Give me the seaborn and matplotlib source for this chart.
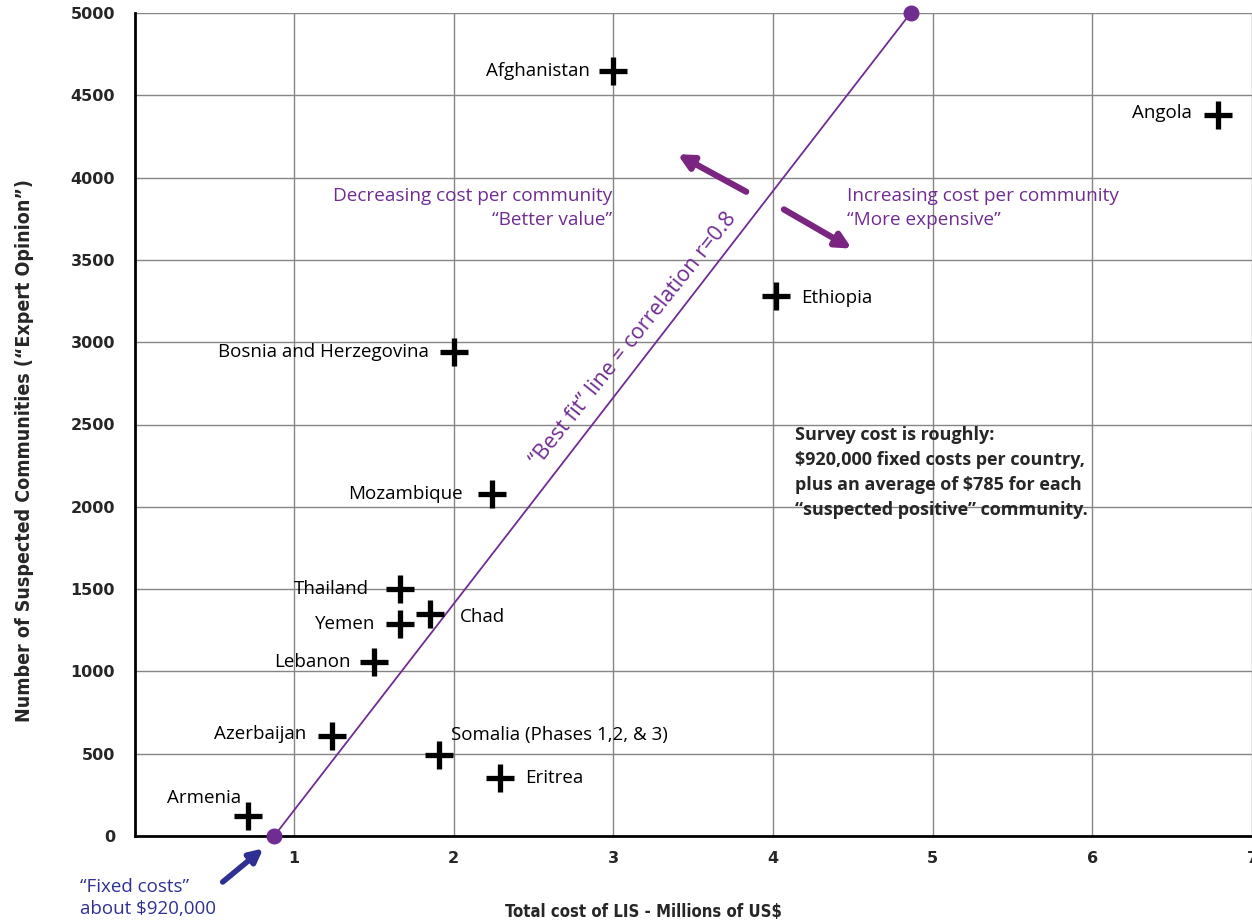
import matplotlib
matplotlib.use("Agg")
import matplotlib.pyplot as plt
import seaborn as sns
import pandas as pd

# data
countries = ["Afghanistan", "Angola", "Ethiopia", "Bosnia and Herzegovina", "Mozambique",
             "Thailand", "Yemen", "Chad", "Lebanon", "Azerbaijan",
             "Somalia (Phases 1,2, & 3)", "Eritrea", "Armenia"]
cost_musd = [3.0, 6.79, 4.02, 2.0, 2.24, 1.66, 1.66, 1.85, 1.50, 1.24, 1.91, 2.29, 0.71]
communities = [4650, 4380, 3280, 2940, 2080, 1500, 1290, 1350, 1060, 610, 490, 350, 120]

fit_x = [0.875, 4.862]
fit_y = [0, 5000]

x_ticks = [1, 2, 3, 4, 5, 6, 7]
y_ticks = [0, 500, 1000, 1500, 2000, 2500, 3000, 3500, 4000, 4500, 5000]

df = pd.DataFrame({"country": countries, "cost": cost_musd, "communities": communities})

sns.set_theme(style="white")
plt.rcParams["font.family"] = ["Open Sans", "DejaVu Sans"]

PURPLE = "#6f2c91"
ARROW = "#7a2680"
BLUE = "#2e3192"

fig = plt.figure(figsize=(12.52, 9.24), dpi=100)
ax = fig.add_axes([134.5 / 1252, 88 / 924, 1117.5 / 1252, 823 / 924])

# best fit line + endpoints
sns.lineplot(x=fit_x, y=fit_y, ax=ax, color=PURPLE, lw=1.3, zorder=3)
ax.scatter(fit_x, fit_y, s=110, color=PURPLE, zorder=5, clip_on=False)

sns.scatterplot(data=df, x="cost", y="communities", marker="+", s=420,
                color="black", linewidth=3.8, ax=ax, zorder=4)

# label placement (pixel offsets from each cross)
offsets = {
    "Afghanistan": (-24, 0, "right"),
    "Angola": (-27, 2, "right"),
    "Ethiopia": (25, -2, "left"),
    "Bosnia and Herzegovina": (-25, 0, "right"),
    "Mozambique": (-29, 0, "right"),
    "Thailand": (-31, 0, "right"),
    "Yemen": (-24, 0, "right"),
    "Chad": (30, -3, "left"),
    "Lebanon": (-23, 0, "right"),
    "Azerbaijan": (-26, 2, "right"),
    "Somalia (Phases 1,2, & 3)": (12, 20, "left"),
    "Eritrea": (25, 0, "left"),
    "Armenia": (-7, 18, "right"),
}
for name, xv, yv in zip(countries, cost_musd, communities):
    dx, dy, ha = offsets[name]
    ax.annotate(name, (xv, yv), xytext=(dx, dy), textcoords="offset pixels",
                ha=ha, va="center", fontsize=13.5, color="black", zorder=6)

ax.set_xlim(0, 6.963)
ax.set_ylim(0, 5000)
ax.set_xticks(x_ticks)
ax.set_yticks(y_ticks)
ax.grid(True, color="#858585", lw=1)
ax.set_axisbelow(True)
for s in ["top", "right"]:
    ax.spines[s].set_visible(False)
for s in ["left", "bottom"]:
    ax.spines[s].set_color("black")
    ax.spines[s].set_linewidth(2)
ax.tick_params(axis="x", direction="inout", length=9, width=1.5, color="black", pad=6)
ax.tick_params(axis="y", direction="in", length=0, pad=14)
for lab in ax.get_xticklabels() + ax.get_yticklabels():
    lab.set_fontfamily("DejaVu Sans")
    lab.set_fontweight("bold")
    lab.set_fontsize(11.5)

ax.set_xlabel("")
ax.set_ylabel("")
fig.text(643 / 1252, 1 - 912 / 924, "Total cost of LIS - Millions of US$", ha="center",
         va="center", fontsize=12, fontweight="bold", fontstretch="condensed",
         family=["DejaVu Sans"])
fig.text(25 / 1252, 1 - 451 / 924, "Number of Suspected Communities (\u201cExpert Opinion\u201d)",
         rotation=90, ha="center", va="center", fontsize=14, fontweight="bold",
         fontstretch="condensed", family=["DejaVu Sans"])

# annotations
ax.text(2.994, 3815, "Decreasing cost per community\n\u201cBetter value\u201d", ha="right",
        va="center", multialignment="right", color=PURPLE, fontsize=13.7, linespacing=1.45)
ax.text(4.464, 3815, "Increasing cost per community\n\u201cMore expensive\u201d", ha="left",
        va="center", color=PURPLE, fontsize=13.7, linespacing=1.45)
ax.annotate("", xy=(3.386, 4150), xytext=(3.847, 3906),
            arrowprops=dict(arrowstyle="-|>", lw=4.5, color=ARROW, mutation_scale=22))
ax.annotate("", xy=(4.508, 3560), xytext=(4.053, 3815),
            arrowprops=dict(arrowstyle="-|>", lw=4.5, color=ARROW, mutation_scale=22))
ax.text(3.125, 3019, "\u201cBest fit\u201d line = correlation r=0.8", rotation=51.5,
        rotation_mode="anchor", ha="center", va="center", color=PURPLE, fontsize=15.5)
ax.text(4.135, 2491, "Survey cost is roughly:\n$920,000 fixed costs per country,\n"
        "plus an average of $785 for each\n\u201csuspected positive\u201d community.",
        ha="left", va="top", fontsize=13, fontweight="bold", linespacing=1.5)

fig.text(80 / 1252, 1 - 898 / 924, "\u201cFixed costs\u201d\nabout $920,000", ha="left",
         va="center", color=BLUE, fontsize=13.5, linespacing=1.35)
ax.annotate("", xy=(0.82, -65), xytext=(0.539, -290), annotation_clip=False,
            arrowprops=dict(arrowstyle="-|>", lw=4, color=BLUE, mutation_scale=20))

fig.savefig("out.png", dpi=100)
